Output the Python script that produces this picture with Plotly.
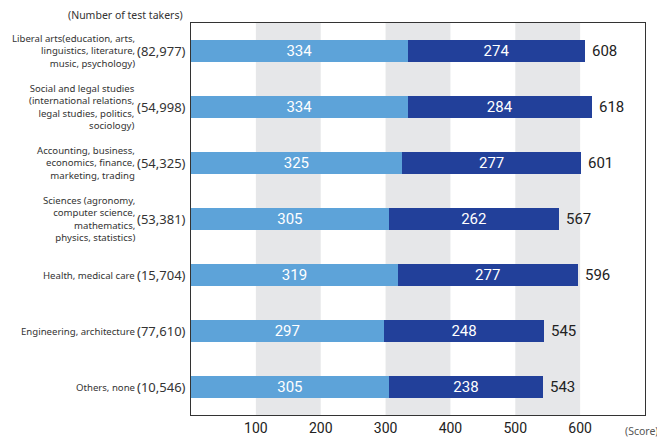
import plotly.graph_objects as go

fields = [
    "Liberal arts(education, arts,<br>linguistics, literature,<br>music, psychology)",
    "Social and legal studies<br>(international relations,<br>legal studies, politics,<br>sociology)",
    "Accounting, business,<br>economics, finance,<br>marketing, trading",
    "Sciences (agronomy,<br>computer science,<br>mathematics,<br>physics, statistics)",
    "Health, medical care",
    "Engineering, architecture",
    "Others, none",
]
takers = ["(82,977)", "(54,998)", "(54,325)", "(53,381)", "(15,704)", "(77,610)", "(10,546)"]
listening = [334, 334, 325, 305, 319, 297, 305]
reading = [274, 284, 277, 262, 277, 248, 238]
totals = [608, 618, 601, 567, 596, 545, 543]
score_ticks = [100, 200, 300, 400, 500, 600]

LIGHT = "#5DA3D9"
DARK = "#22409A"
BAND = "#E6E7E9"
FONT = "Noto Sans"

ids = list(range(len(fields)))

fig = go.Figure()
for vals, col in ((listening, LIGHT), (reading, DARK)):
    fig.add_trace(go.Bar(
        y=ids, x=vals, orientation="h", marker=dict(color=col, line=dict(width=0)),
        text=vals, textposition="inside", insidetextanchor="middle", constraintext="none",
        textfont=dict(color="white", size=15, family="Roboto"), width=0.4,
        hoverinfo="x",
    ))

# totals to the right of each bar
for i, t in enumerate(totals):
    fig.add_annotation(x=t, y=i, xref="x", yref="y", text=str(t), showarrow=False,
                       xanchor="left", xshift=5,
                       font=dict(size=15, color="#222", family="Roboto"))

# alternating grey bands
for lo in (100, 300, 500):
    fig.add_shape(type="rect", xref="x", yref="paper", x0=lo, x1=lo + 100, y0=0, y1=1,
                  fillcolor=BAND, line=dict(width=0), layer="below")

# category names and counts on the left
for i, (name, n) in enumerate(zip(fields, takers)):
    fig.add_annotation(x=0, y=i, xref="paper", yref="y", text=name, showarrow=False,
                       xanchor="right", align="right", xshift=-54,
                       font=dict(size=9.6, color="#333", family=FONT))
    fig.add_annotation(x=0, y=i, xref="paper", yref="y", text=n, showarrow=False,
                       xanchor="right", xshift=-3,
                       font=dict(size=13, color="#333", family=FONT))

fig.add_annotation(x=0, y=1, xref="paper", yref="paper", text="(Number of test takers)",
                   showarrow=False, xanchor="right", yanchor="bottom", xshift=-6, yshift=-1,
                   font=dict(size=10.5, color="#333", family=FONT))
fig.add_annotation(x=1, y=0, xref="paper", yref="paper", text="(Score)", showarrow=False,
                   xanchor="right", yanchor="top", xshift=16, yshift=-7,
                   font=dict(size=10.5, color="#555", family=FONT))

# page body has an 8px margin, so offsets are shifted to keep the plot in place
fig.update_layout(
    width=665, height=440,
    barmode="stack", bargap=0.6,
    showlegend=False,
    plot_bgcolor="white", paper_bgcolor="white",
    margin=dict(l=183, r=28, t=15, b=31),
    xaxis=dict(range=[0, 700], tickvals=score_ticks, showgrid=False, zeroline=False,
               showline=True, mirror=True, linecolor="#333", linewidth=1,
               ticks="", tickfont=dict(size=14, color="#222", family="Roboto")),
    yaxis=dict(range=[6.5, -0.5], showticklabels=False, showgrid=False, zeroline=False,
               showline=True, mirror=True, linecolor="#333", linewidth=1, ticks=""),
)

fig.write_html("out.html")
